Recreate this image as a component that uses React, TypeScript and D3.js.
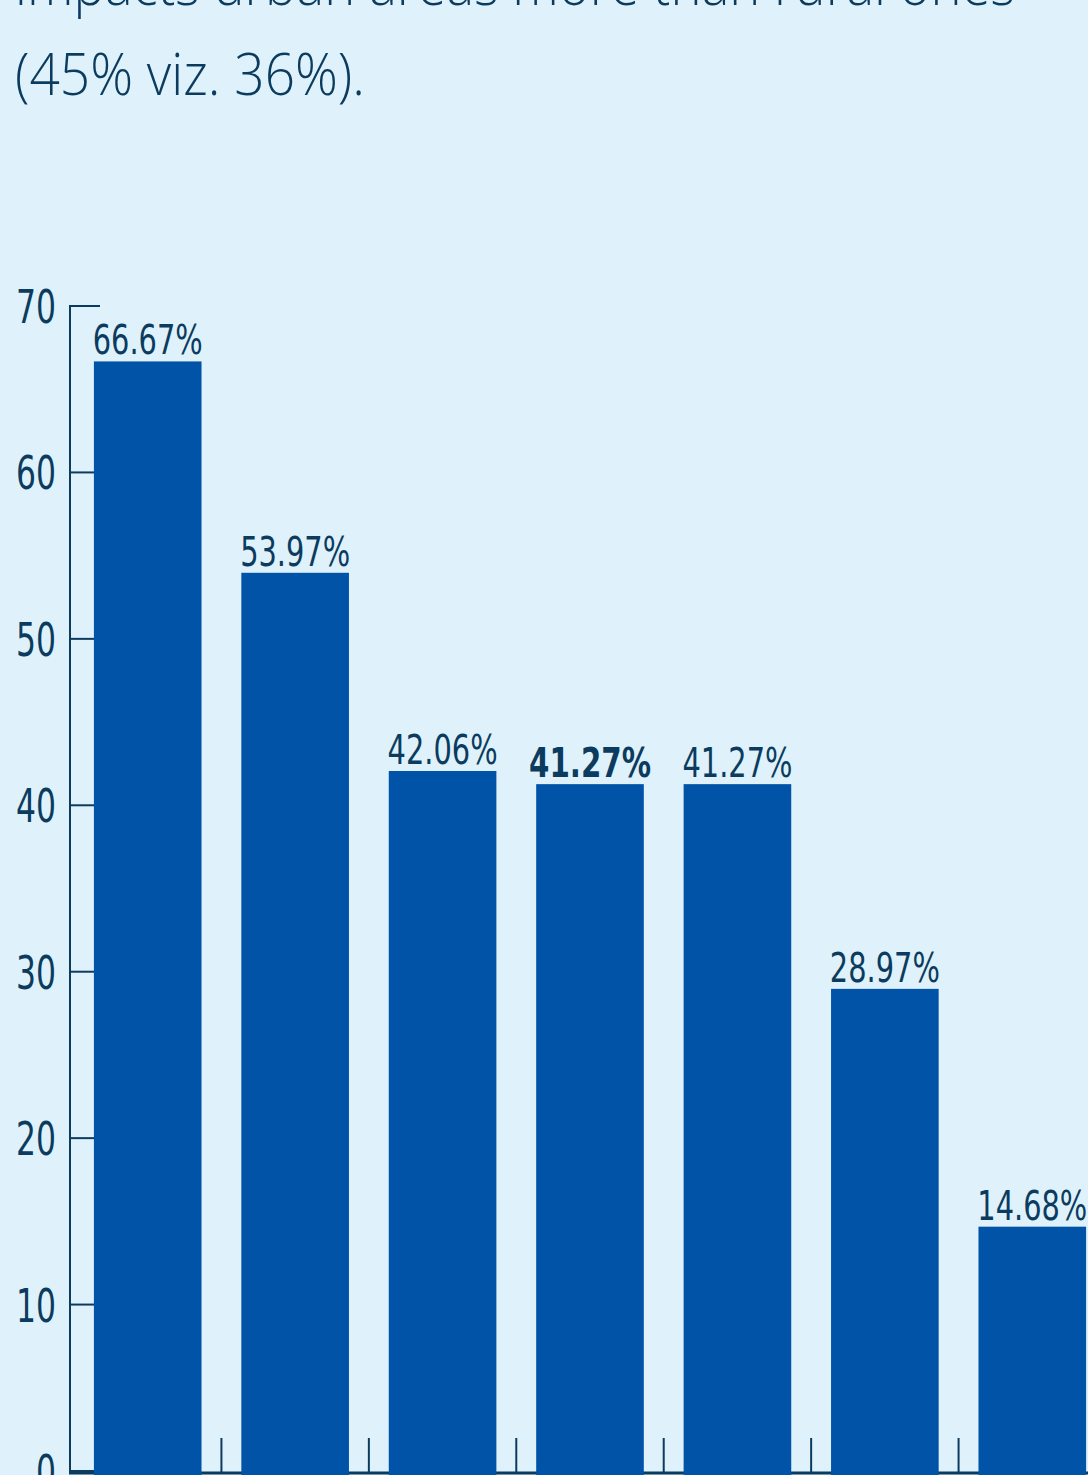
import React from "react";
import * as d3 from "d3";

const categories = ["C1", "C2", "C3", "C4", "C5", "C6", "C7"];
const values = [66.67, 53.97, 42.06, 41.27, 41.27, 28.97, 14.68];
const boldLabel = [false, false, false, true, false, false, false];
const yTicks = [0, 10, 20, 30, 40, 50, 60, 70];
const titleLines = ["impacts urban areas more than rural ones", "(45% viz. 36%)."];

const W = 1088;
const H = 1475;
const BG = "#dff2fb";
const BAR = "#0053a6";
const INK = "#0b3c5f";
const NARROW = "'Liberation Sans Narrow', 'Arial Narrow', 'DejaVu Sans Condensed', sans-serif";

export default function App() {
  const x = d3
    .scaleBand<string>()
    .domain(categories)
    .range([74, 1106])
    .paddingInner(0.27)
    .paddingOuter(0.135);
  const y = d3.scaleLinear().domain([0, 70]).range([1471, 306]);
  const step = x.step();
  const axisX = 70;
  const baseY = 1473;

  return (
    <svg
      width={W}
      height={H}
      style={{ position: "absolute", left: 0, top: 0, display: "block" }}
    >
      <rect x={0} y={0} width={W} height={H} fill={BG} />

      {/* Title text (partially cropped) */}
      <text
        x={15}
        y={5}
        fill={INK}
        fontFamily="'Open Sans', 'Noto Sans', sans-serif"
        fontWeight={300}
        fontSize={58}
        textLength={1000}
        lengthAdjust="spacingAndGlyphs"
      >
        {titleLines[0]}
      </text>
      <text
        x={15}
        y={95}
        fill={INK}
        fontFamily="'Open Sans', 'Noto Sans', sans-serif"
        fontWeight={300}
        fontSize={58}
        textLength={350}
        lengthAdjust="spacingAndGlyphs"
      >
        {titleLines[1]}
      </text>

      {/* Y axis */}
      <line x1={axisX} x2={axisX} y1={y(70) - 1} y2={baseY + 1} stroke={INK} strokeWidth={2} />
      {yTicks.map((t) => (
        <g key={t}>
          <line x1={axisX} x2={axisX + 30} y1={y(t)} y2={y(t)} stroke={INK} strokeWidth={2} />
          <text
            x={56}
            y={y(t) + 17}
            textAnchor="end"
            fill={INK}
            fontFamily={NARROW}
            fontSize={47}
            textLength={String(t).length * 20}
            lengthAdjust="spacingAndGlyphs"
          >
            {t}
          </text>
        </g>
      ))}

      {/* X baseline and category ticks */}
      <line x1={axisX - 1} x2={W} y1={baseY} y2={baseY} stroke={INK} strokeWidth={3} />
      {categories.slice(1).map((c) => {
        const bx = (x(c) as number) - (step * x.paddingInner()) / 2;
        return (
          <line key={"t" + c} x1={bx} x2={bx} y1={1438} y2={baseY} stroke={INK} strokeWidth={2} />
        );
      })}

      {/* Bars */}
      {categories.map((c, i) => (
        <rect
          key={c}
          x={x(c)}
          y={y(values[i])}
          width={x.bandwidth()}
          height={H + 2 - y(values[i])}
          fill={BAR}
        />
      ))}

      {/* Value labels */}
      {categories.map((c, i) => {
        const txt = values[i].toFixed(2) + "%";
        return (
          <text
            key={"l" + c}
            x={(x(c) as number) + x.bandwidth() / 2}
            y={y(values[i]) - 7}
            textAnchor="middle"
            fill={INK}
            fontFamily={NARROW}
            fontWeight={boldLabel[i] ? 700 : 400}
            fontSize={40}
            textLength={boldLabel[i] ? 122 : 110}
            lengthAdjust="spacingAndGlyphs"
          >
            {txt}
          </text>
        );
      })}
    </svg>
  );
}
